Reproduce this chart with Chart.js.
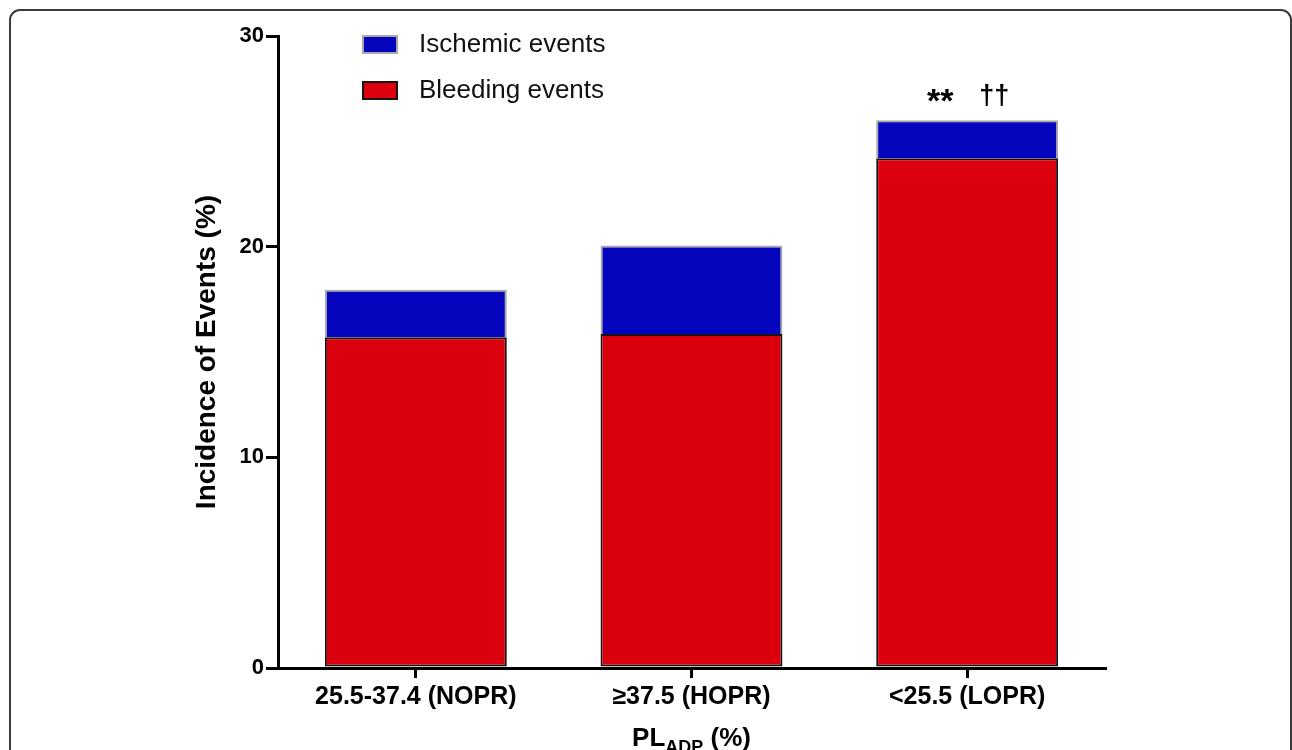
<!DOCTYPE html>
<html>
<head>
<meta charset="utf-8">
<script src="https://cdn.jsdelivr.net/npm/chart.js@4"></script>
<style>
  html, body { margin: 0; padding: 0; background: #fff; overflow: hidden; }
  #wrap { position: relative; width: 1292px; height: 750px; }
  #frame {
    position: absolute; left: 9px; top: 9px; width: 1283px; height: 800px;
    box-sizing: border-box; border: 2px solid #3a3a3a; border-radius: 11px;
    pointer-events: none;
  }
</style>
</head>
<body>
<div id="wrap">
  <canvas id="eventsChart" width="1292" height="750"></canvas>
  <div id="frame"></div>
</div>
<script>
const categories = ['25.5-37.4 (NOPR)', '\u226537.5 (HOPR)', '<25.5 (LOPR)'];
const bleeding = [15.7, 15.85, 24.2];
const ischemic = [2.25, 4.2, 1.8];
const starMarks = ['', '', '**'];
const daggerMarks = ['', '', '\u2020\u2020'];
const yTicks = [0, 10, 20, 30];

const FONT = '"Liberation Sans", Arial, Helvetica, sans-serif';

// legend drawn top-left of the plot, ischemic listed first
const legendPlugin = {
  id: 'stackLegend',
  afterDraw(chart) {
    const c = chart.ctx;
    const items = chart.data.datasets.slice().reverse();
    c.save();
    items.forEach((ds, i) => {
      const y = 35 + i * 46;
      c.fillStyle = ds.backgroundColor;
      c.fillRect(362, y, 36, 19);
      c.strokeStyle = ds.borderColor;
      c.lineWidth = 2;
      c.strokeRect(363, y + 1, 34, 17);
      c.fillStyle = '#111';
      c.font = '26px ' + FONT;
      c.textBaseline = 'middle';
      c.fillText(ds.label, 419, y + 10);
    });
    c.restore();
  }
};

// significance marks above bars + x title with subscript
const extrasPlugin = {
  id: 'extras',
  afterDraw(chart) {
    const c = chart.ctx;
    const xs = chart.scales.x, ys = chart.scales.y;
    c.save();
    c.fillStyle = '#000';
    c.textAlign = 'center';
    c.textBaseline = 'alphabetic';
    starMarks.forEach((txt, i) => {
      if (!txt) return;
      const top = ys.getPixelForValue(bleeding[i] + ischemic[i]);
      const cx = xs.getPixelForValue(i);
      c.font = 'bold 34px ' + FONT;
      c.fillText(txt, cx - 27, top - 8);
      c.font = 'bold 27px ' + FONT;
      c.fillText(daggerMarks[i], cx + 27, top - 16);
    });

    const big = 'bold 26px ' + FONT, small = 'bold 18px ' + FONT;
    c.font = big; const w1 = c.measureText('PL').width; const w3 = c.measureText(' (%)').width;
    c.font = small; const w2 = c.measureText('ADP').width;
    const cx = (chart.chartArea.left + chart.chartArea.right) / 2;
    let x = cx - (w1 + w2 + w3) / 2;
    c.textAlign = 'left';
    c.font = big; c.fillText('PL', x, 746); x += w1;
    c.font = small; c.fillText('ADP', x, 753); x += w2;
    c.font = big; c.fillText(' (%)', x, 746);
    c.restore();
  }
};

new Chart(document.getElementById('eventsChart').getContext('2d'), {
  type: 'bar',
  data: {
    labels: categories,
    datasets: [
      {
        label: 'Bleeding events',
        data: bleeding,
        backgroundColor: '#DC000E',
        borderColor: '#151515',
        borderWidth: 2,
        borderSkipped: false
      },
      {
        label: 'Ischemic events',
        data: ischemic,
        backgroundColor: '#0505BD',
        borderColor: '#a8a8a8',
        borderWidth: 2,
        borderSkipped: 'start'
      }
    ]
  },
  options: {
    responsive: false,
    animation: false,
    devicePixelRatio: 1,
    layout: { padding: { left: 190, top: 36, right: 187, bottom: 0 } },
    datasets: { bar: { categoryPercentage: 1, barPercentage: 0.66 } },
    plugins: { legend: { display: false }, tooltip: { enabled: false } },
    scales: {
      x: {
        stacked: true,
        afterFit: (s) => { s.height = 82; },
        grid: { drawOnChartArea: false, offset: false, color: '#000', tickLength: 10, lineWidth: 3, tickWidth: 3, tickColor: '#000' },
        border: { color: '#000', width: 3 },
        ticks: { color: '#000', padding: 4, font: { family: FONT, size: 25, weight: 'bold' } }
      },
      y: {
        stacked: true,
        min: 0,
        max: 30,
        afterFit: (s) => { s.width = 88; },
        afterBuildTicks: (s) => { s.ticks = yTicks.map(v => ({ value: v })); },
        grid: { drawOnChartArea: false, color: '#000', tickLength: 12, lineWidth: 3, tickWidth: 3, tickColor: '#000' },
        border: { color: '#000', width: 3 },
        ticks: { color: '#000', padding: 2, font: { family: FONT, size: 22, weight: 'bold' } },
        title: { display: true, text: 'Incidence of Events (%)', color: '#000', padding: 0, font: { family: FONT, size: 28, weight: 'bold' } }
      }
    }
  },
  plugins: [legendPlugin, extrasPlugin]
});
</script>
</body>
</html>
